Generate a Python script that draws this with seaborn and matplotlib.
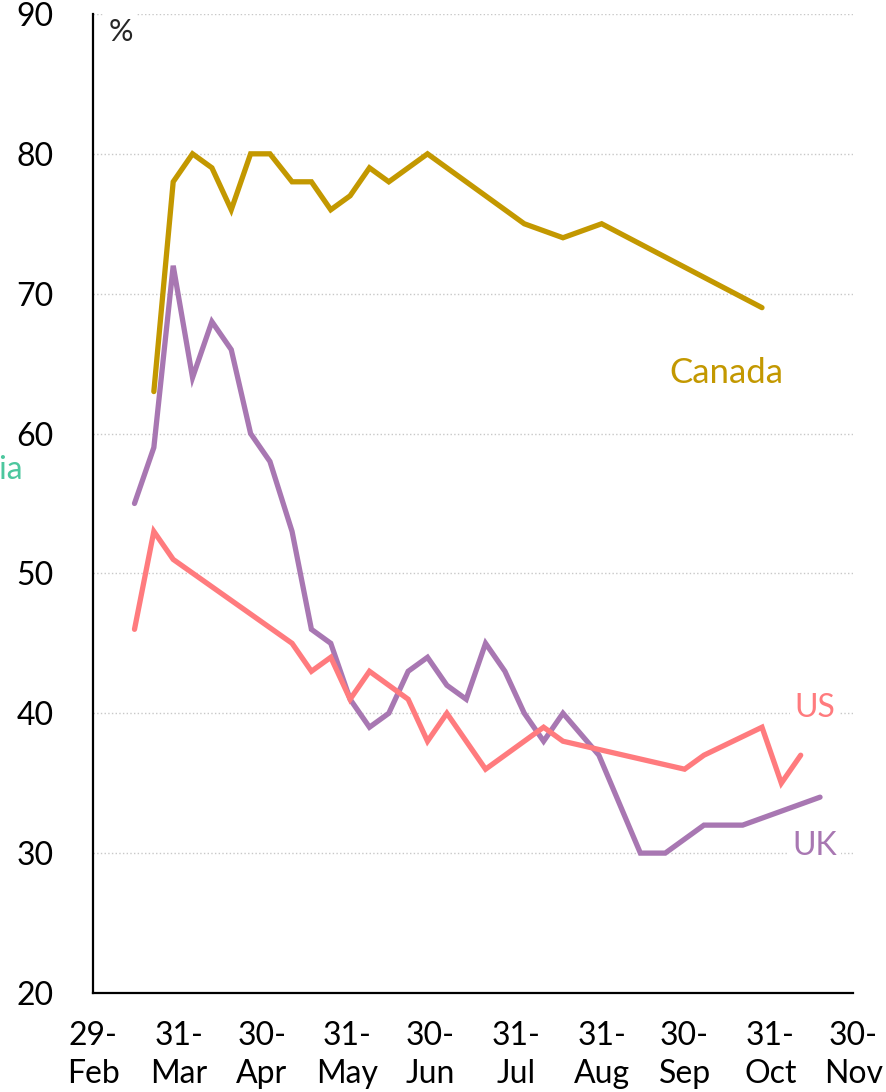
import pandas as pd
import numpy as np
import matplotlib
matplotlib.use("Agg")
import matplotlib.pyplot as plt
import seaborn as sns

# values (%), by survey date in 2020
canada_dates = ["2020-03-22", "2020-03-29", "2020-04-05", "2020-04-12", "2020-04-19",
                "2020-04-26", "2020-05-03", "2020-05-11", "2020-05-18", "2020-05-25",
                "2020-06-01", "2020-06-08", "2020-06-15", "2020-06-29", "2020-08-03",
                "2020-08-17", "2020-08-31", "2020-10-28"]
canada_vals = [63, 78, 80, 79, 76, 80, 80, 78, 78, 76, 77, 79, 78, 80, 75, 74, 75, 69]

uk_dates = ["2020-03-15", "2020-03-22", "2020-03-29", "2020-04-05", "2020-04-12",
            "2020-04-19", "2020-04-26", "2020-05-03", "2020-05-11", "2020-05-18",
            "2020-05-25", "2020-06-01", "2020-06-08", "2020-06-15", "2020-06-22",
            "2020-06-29", "2020-07-06", "2020-07-13", "2020-07-20", "2020-07-27",
            "2020-08-03", "2020-08-10", "2020-08-17", "2020-08-30", "2020-09-14",
            "2020-09-23", "2020-10-07", "2020-10-21", "2020-11-18"]
uk_vals = [55, 59, 72, 64, 68, 66, 60, 58, 53, 46, 45, 41, 39, 40, 43, 44, 42, 41,
           45, 43, 40, 38, 40, 37, 30, 30, 32, 32, 34]

us_dates = ["2020-03-15", "2020-03-22", "2020-03-29", "2020-05-11", "2020-05-18",
            "2020-05-25", "2020-06-01", "2020-06-08", "2020-06-15", "2020-06-22",
            "2020-06-29", "2020-07-06", "2020-07-20", "2020-08-10", "2020-08-17",
            "2020-09-30", "2020-10-07", "2020-10-28", "2020-11-04", "2020-11-11"]
us_vals = [46, 53, 51, 45, 43, 44, 41, 43, 42, 41, 38, 40, 36, 39, 38, 36, 37, 39, 35, 37]

tick_dates = ["2020-02-29", "2020-03-31", "2020-04-30", "2020-05-31", "2020-06-30",
              "2020-07-31", "2020-08-31", "2020-09-30", "2020-10-31", "2020-11-30"]
tick_labels = ["29-\nFeb", "31-\nMar", "30-\nApr", "31-\nMay", "30-\nJun",
               "31-\nJul", "31-\nAug", "30-\nSep", "31-\nOct", "30-\nNov"]

colors = {"Canada": "#C39800", "UK": "#A877B2", "US": "#FF7B7E", "Australia": "#4CC79E"}

df = pd.concat([
    pd.DataFrame({"date": pd.to_datetime(canada_dates), "pct": canada_vals, "country": "Canada"}),
    pd.DataFrame({"date": pd.to_datetime(uk_dates), "pct": uk_vals, "country": "UK"}),
    pd.DataFrame({"date": pd.to_datetime(us_dates), "pct": us_vals, "country": "US"}),
])

sns.set_style("white")
plt.rcParams["font.family"] = ["Lato", "DejaVu Sans"]

fig = plt.figure(figsize=(8.86, 10.92), dpi=100)
ax = fig.add_axes([0.105, 0.0907, 0.858, 0.8965])

sns.lineplot(data=df, x="date", y="pct", hue="country",
             palette={k: colors[k] for k in ["Canada", "UK", "US"]},
             linewidth=3.8, legend=False, ax=ax, estimator=None,
             solid_capstyle="round", solid_joinstyle="miter")

ax.set_ylim(20, 90)
ax.set_yticks(range(20, 91, 10))
ax.set_xlim(pd.Timestamp(tick_dates[0]), pd.Timestamp(tick_dates[-1]))
ax.set_xticks(pd.to_datetime(tick_dates))
ax.set_xticklabels(tick_labels, linespacing=1.3)
ax.set_xlabel("")
ax.set_ylabel("")

ax.tick_params(axis="both", labelsize=23, length=7.5, width=1.5, color="black",
               labelcolor="black", direction="out")
ax.tick_params(axis="x", pad=13)
ax.tick_params(axis="y", pad=21)

for s in ["top", "right"]:
    ax.spines[s].set_visible(False)
for s in ["left", "bottom"]:
    ax.spines[s].set_color("black")
    ax.spines[s].set_linewidth(1.6)

ax.yaxis.grid(True, linestyle=":", color="#c8c8c8", linewidth=1)
ax.set_axisbelow(True)

box = dict(facecolor="white", edgecolor="none", pad=3)
ax.text(0.036, 0.982, "%", transform=ax.transAxes, fontsize=22, va="center", ha="center",
        bbox=box)

ax.text(pd.Timestamp("2020-10-15"), 64.3, "Canada", color=colors["Canada"],
        fontsize=25, ha="center", va="center", bbox=box)
ax.text(pd.Timestamp("2020-11-16"), 40.4, "US", color=colors["US"],
        fontsize=23, ha="center", va="center", bbox=box)
ax.text(pd.Timestamp("2020-11-16"), 30.5, "UK", color=colors["UK"],
        fontsize=23, ha="center", va="center", bbox=box)
ax.text(pd.Timestamp("2020-02-04"), 57.4, "Australia", color=colors["Australia"],
        fontsize=23, ha="right", va="center", clip_on=False)

fig.savefig("out.png", dpi=100)
